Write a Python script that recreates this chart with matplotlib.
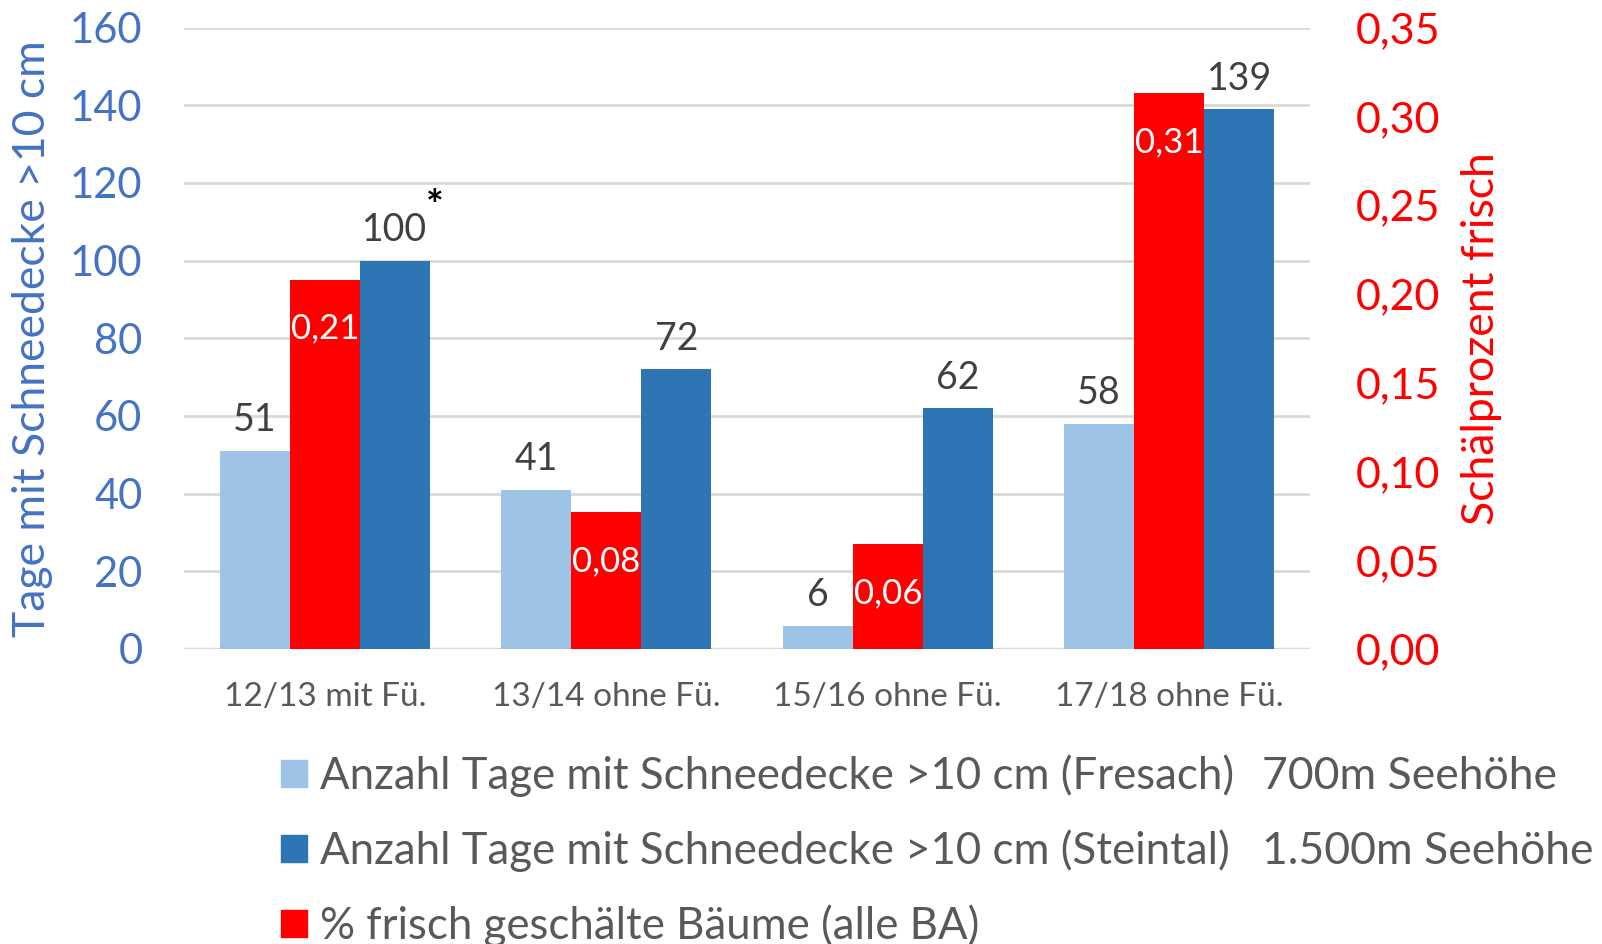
import matplotlib.pyplot as plt
from matplotlib.patches import Patch

plt.rcParams['font.family'] = ['Lato', 'DejaVu Sans']

categories = ['12/13 mit Fü.', '13/14 ohne Fü.', '15/16 ohne Fü.', '17/18 ohne Fü.']
tage_fresach = [51, 41, 6, 58]
tage_steintal = [100, 72, 62, 139]
schael_frisch = [0.208, 0.077, 0.059, 0.313]

left_ticks = [0, 20, 40, 60, 80, 100, 120, 140, 160]
right_ticks = [0.00, 0.05, 0.10, 0.15, 0.20, 0.25, 0.30, 0.35]

c_light = '#9DC3E6'
c_dark = '#2E75B6'
c_red = '#FF0000'
c_axis_blue = '#4472C4'
c_text = '#595959'
c_label = '#404040'

fig = plt.figure(figsize=(16.02, 9.44), dpi=100)
ax = fig.add_axes([0.1149, 0.3125, 0.7028, 0.6583])
ax2 = ax.twinx()

w = 0.249
x = list(range(len(categories)))

ax.bar([i - w for i in x], tage_fresach, w, color=c_light, zorder=2)
ax.bar([i + w for i in x], tage_steintal, w, color=c_dark, zorder=2)
ax2.bar(x, schael_frisch, w, color=c_red, zorder=2)

ax.set_xlim(-0.5, 3.5)
ax.set_ylim(0, 160)
ax2.set_ylim(0, 0.35)
ax.set_yticks(left_ticks)
ax2.set_yticks(right_ticks)
ax2.set_yticklabels([('%.2f' % v).replace('.', ',') for v in right_ticks])

ax.yaxis.grid(True, color='#D9D9D9', linewidth=2, zorder=0)
ax.set_axisbelow(True)
for a in (ax, ax2):
    for s in a.spines.values():
        s.set_visible(False)
ax.axhline(0, color='#D9D9D9', linewidth=2.5, zorder=1)

ax.set_xticks(x)
ax.set_xticklabels(categories, fontsize=24, color=c_text)
ax.tick_params(axis='x', length=0, pad=24)
ax.tick_params(axis='y', length=0, pad=30, labelsize=30, labelcolor=c_axis_blue)
ax2.tick_params(axis='y', length=0, pad=33, labelsize=31, labelcolor=c_red)

ax.set_ylabel('Tage mit Schneedecke >10 cm', fontsize=32, color=c_axis_blue, labelpad=12)
ax2.set_ylabel('Schälprozent frisch', fontsize=32, color=c_red, labelpad=15)

# data labels
for i in x:
    ax.annotate(str(tage_fresach[i]), (i - w, tage_fresach[i]), xytext=(0, 9),
                textcoords='offset points', ha='center', va='bottom', fontsize=27, color=c_label)
    ax.annotate(str(tage_steintal[i]), (i + w, tage_steintal[i]), xytext=(0, 9),
                textcoords='offset points', ha='center', va='bottom', fontsize=27, color=c_label)
    ax2.annotate(('%.2f' % schael_frisch[i]).replace('.', ','), (i, schael_frisch[i]),
                 xytext=(0, -35), textcoords='offset points', ha='center', va='center',
                 fontsize=25, color='white')

# asterisk on the 100 label
ax.annotate('*', (w, tage_steintal[0]), xytext=(29, 38), textcoords='offset points',
            ha='center', va='center', fontsize=30, color='black', fontweight='bold')

handles = [Patch(color=c_light), Patch(color=c_dark), Patch(color=c_red)]
labels = ['Anzahl Tage mit Schneedecke >10 cm (Fresach)',
          'Anzahl Tage mit Schneedecke >10 cm (Steintal)',
          '% frisch geschälte Bäume (alle BA)']
fig.legend(handles, labels, loc='upper left', bbox_to_anchor=(0.1754, 0.201),
           frameon=False, fontsize=31.5, labelcolor=c_text, handlelength=0.6,
           handleheight=0.6, handletextpad=0.3, labelspacing=0.74, borderaxespad=0,
           borderpad=0)
fig.text(0.7877, 0.1774, '700m Seehöhe', fontsize=32, color=c_text, va='center')
fig.text(0.7877, 0.0985, '1.500m Seehöhe', fontsize=32, color=c_text, va='center')

fig.savefig('out.png', dpi=100)
